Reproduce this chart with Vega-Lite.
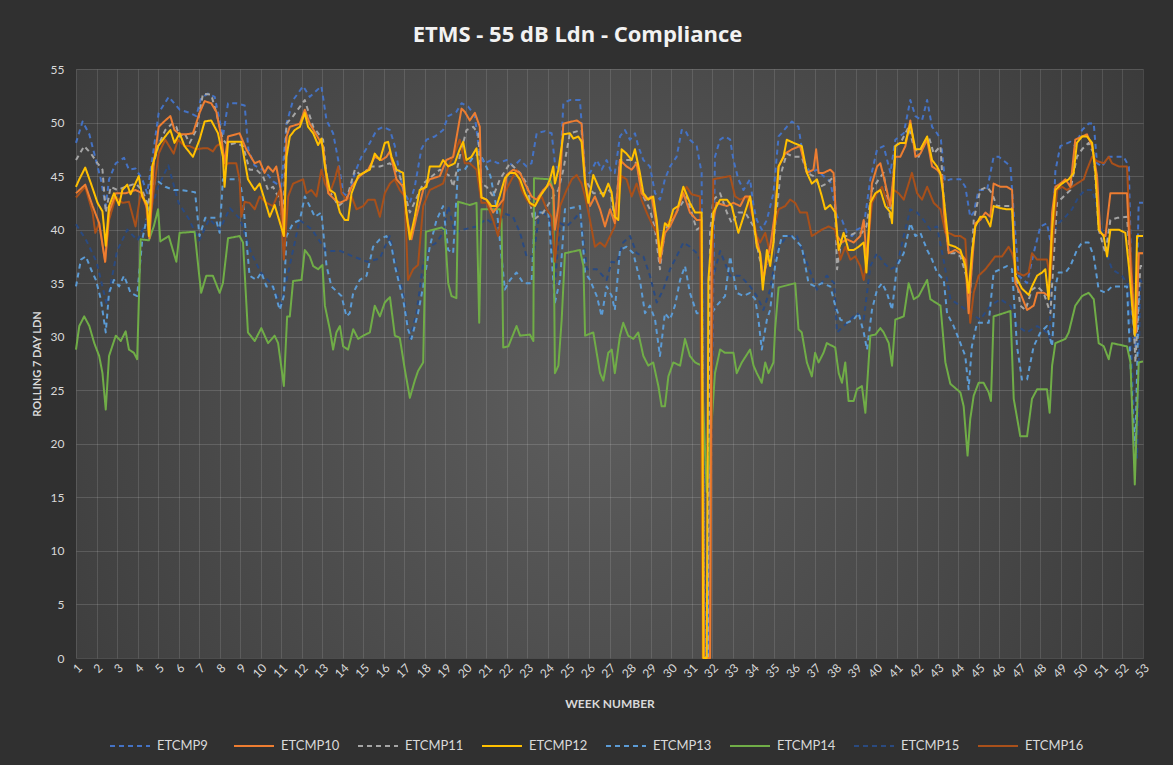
{
"$schema": "https://vega.github.io/schema/vega-lite/v6.json",
"width": 1067, "height": 589,
"autosize": {"type": "none"},
"padding": {"left": 76, "top": 69, "right": 30, "bottom": 107},
"background": "#303030",
"title": {"text": "ETMS - 55 dB Ldn - Compliance", "font": "Open Sans", "fontSize": 22, "fontWeight": "bold", "color": "#f2f2f2", "anchor": "middle", "dx": -32, "offset": 16},
"config": {"view": {"stroke": null, "fill": {"gradient": "radial", "x1": 0.48, "y1": 0.53, "r1": 0, "x2": 0.48, "y2": 0.53, "r2": 0.75, "stops": [{"offset": 0, "color": "#5d5d5d"}, {"offset": 1, "color": "#333333"}]}}},
"data": {"values": [
{"s":15,"w":1,"v":40.5},{"s":15,"w":1.5,"v":39},{"s":15,"w":2,"v":37},{"s":15,"w":2.5,"v":33},{"s":15,"w":3,"v":38},{"s":15,"w":3.5,"v":40},{"s":15,"w":4,"v":39},{"s":15,"w":4.5,"v":41},{"s":15,"w":5,"v":44},{"s":15,"w":5.5,"v":46},{"s":15,"w":6,"v":42.5},{"s":15,"w":6.5,"v":41},{"s":15,"w":7,"v":39},{"s":15,"w":7.5,"v":41},{"s":15,"w":8,"v":40},{"s":15,"w":8.5,"v":42},{"s":15,"w":9,"v":41},{"s":15,"w":9.5,"v":38},{"s":15,"w":10,"v":36},{"s":15,"w":10.5,"v":35},{"s":15,"w":11,"v":33},{"s":15,"w":11.9,"v":40.9},{"s":15,"w":12.5,"v":40},{"s":15,"w":13.2,"v":38},{"s":15,"w":13.9,"v":38},{"s":15,"w":14.5,"v":37.5},{"s":15,"w":15.2,"v":37},{"s":15,"w":15.8,"v":37.3},{"s":15,"w":16.29,"v":39.4},{"s":15,"w":16.6,"v":36.6},{"s":15,"w":16.94,"v":34.1},{"s":15,"w":17.27,"v":29.8},{"s":15,"w":17.6,"v":32.2},{"s":15,"w":17.92,"v":36.9},{"s":15,"w":18.24,"v":38.4},{"s":15,"w":18.57,"v":38.8},{"s":15,"w":18.89,"v":39.7},{"s":15,"w":19.14,"v":42.2},{"s":15,"w":19.46,"v":39.7},{"s":15,"w":19.87,"v":40},{"s":15,"w":20.52,"v":40.3},{"s":15,"w":21,"v":41},{"s":15,"w":21.5,"v":40.3},{"s":15,"w":21.9,"v":41.5},{"s":15,"w":22.3,"v":41.2},{"s":15,"w":22.64,"v":39.7},{"s":15,"w":22.96,"v":37.5},{"s":15,"w":23.29,"v":37.5},{"s":15,"w":23.61,"v":41.9},{"s":15,"w":24.1,"v":41},{"s":15,"w":24.34,"v":35},{"s":15,"w":24.59,"v":40.6},{"s":15,"w":24.91,"v":40.3},{"s":15,"w":25.24,"v":40.9},{"s":15,"w":25.56,"v":41.6},{"s":15,"w":25.9,"v":36.3},{"s":15,"w":26.38,"v":36.3},{"s":15,"w":26.86,"v":35.3},{"s":15,"w":27.1,"v":37},{"s":15,"w":27.35,"v":36.9},{"s":15,"w":27.67,"v":38.8},{"s":15,"w":28,"v":39.4},{"s":15,"w":28.32,"v":37.8},{"s":15,"w":28.65,"v":37.5},{"s":15,"w":28.97,"v":35.7},{"s":15,"w":29.3,"v":33.2},{"s":15,"w":29.62,"v":34.4},{"s":15,"w":29.95,"v":36.3},{"s":15,"w":30.27,"v":37.5},{"s":15,"w":30.6,"v":38.8},{"s":15,"w":30.92,"v":38.4},{"s":15,"w":31.25,"v":37.8},{"s":15,"w":31.49,"v":36.9},{"s":15,"w":31.66,"v":0},{"s":15,"w":31.85,"v":0},{"s":15,"w":32.06,"v":35.7},{"s":15,"w":32.39,"v":38},{"s":15,"w":32.88,"v":35.7},{"s":15,"w":33.37,"v":35.7},{"s":15,"w":33.85,"v":34.7},{"s":15,"w":34.18,"v":33.8},{"s":15,"w":34.5,"v":32.5},{"s":15,"w":34.83,"v":34.4},{"s":15,"w":35.15,"v":38.1},{"s":15,"w":35.64,"v":39.4},{"s":15,"w":36.13,"v":39.4},{"s":15,"w":36.62,"v":36.9},{"s":15,"w":37.11,"v":34.4},{"s":15,"w":37.59,"v":35.7},{"s":15,"w":37.95,"v":35},{"s":15,"w":38.09,"v":30.4},{"s":15,"w":38.41,"v":31},{"s":15,"w":38.74,"v":31.6},{"s":15,"w":39.06,"v":32.2},{"s":15,"w":39.39,"v":31.6},{"s":15,"w":39.71,"v":36.6},{"s":15,"w":40.04,"v":37.8},{"s":15,"w":40.36,"v":36.9},{"s":15,"w":40.69,"v":36.3},{"s":15,"w":41.01,"v":36.6},{"s":15,"w":41.34,"v":39.4},{"s":15,"w":41.66,"v":41.9},{"s":15,"w":41.99,"v":41.6},{"s":15,"w":42.31,"v":40.9},{"s":15,"w":42.64,"v":40},{"s":15,"w":42.96,"v":40.3},{"s":15,"w":43.3,"v":37},{"s":15,"w":43.61,"v":33.5},{"s":15,"w":44.1,"v":32.9},{"s":15,"w":44.58,"v":32.2},{"s":15,"w":45.07,"v":31.6},{"s":15,"w":45.56,"v":32.9},{"s":15,"w":46.05,"v":33.5},{"s":15,"w":46.54,"v":32.9},{"s":15,"w":46.86,"v":31},{"s":15,"w":47.35,"v":30.4},{"s":15,"w":47.84,"v":31},{"s":15,"w":48.32,"v":30.4},{"s":15,"w":48.45,"v":29.9},{"s":15,"w":48.57,"v":39.4},{"s":15,"w":48.89,"v":40.6},{"s":15,"w":49.22,"v":41.2},{"s":15,"w":49.54,"v":41.9},{"s":15,"w":49.87,"v":43.1},{"s":15,"w":50.19,"v":43.7},{"s":15,"w":50.52,"v":43.7},{"s":15,"w":50.84,"v":41.6},{"s":15,"w":51.17,"v":38.1},{"s":15,"w":51.49,"v":36.3},{"s":15,"w":51.98,"v":35.7},{"s":15,"w":52.31,"v":34.7},{"s":15,"w":52.55,"v":23.4},{"s":15,"w":52.71,"v":18.7},{"s":15,"w":52.87,"v":35.3},{"s":15,"w":53,"v":34.7},
{"s":13,"w":1,"v":34.7},{"s":13,"w":1.24,"v":37.2},{"s":13,"w":1.48,"v":37.5},{"s":13,"w":1.73,"v":36.3},{"s":13,"w":1.97,"v":35.3},{"s":13,"w":2.21,"v":33.5},{"s":13,"w":2.45,"v":30.4},{"s":13,"w":2.61,"v":34.1},{"s":13,"w":2.85,"v":35.3},{"s":13,"w":3.1,"v":34.7},{"s":13,"w":3.34,"v":35.7},{"s":13,"w":3.66,"v":34.1},{"s":13,"w":3.98,"v":33.8},{"s":13,"w":4.23,"v":39.1},{"s":13,"w":4.87,"v":44.7},{"s":13,"w":5.35,"v":44},{"s":13,"w":5.76,"v":43.7},{"s":13,"w":6.1,"v":43.7},{"s":13,"w":6.8,"v":43.5},{"s":13,"w":7.02,"v":39.4},{"s":13,"w":7.3,"v":41.1},{"s":13,"w":7.8,"v":41.1},{"s":13,"w":8,"v":39.7},{"s":13,"w":8.16,"v":44.7},{"s":13,"w":8.97,"v":44.7},{"s":13,"w":9.14,"v":42.8},{"s":13,"w":9.3,"v":39.1},{"s":13,"w":9.46,"v":35.7},{"s":13,"w":9.79,"v":35.3},{"s":13,"w":10.03,"v":36},{"s":13,"w":10.28,"v":34.7},{"s":13,"w":10.6,"v":34.7},{"s":13,"w":10.93,"v":32.5},{"s":13,"w":11.13,"v":33.8},{"s":13,"w":11.26,"v":39.4},{"s":13,"w":11.58,"v":40.6},{"s":13,"w":11.91,"v":40.9},{"s":13,"w":12.15,"v":43.1},{"s":13,"w":12.39,"v":42.2},{"s":13,"w":12.64,"v":41.2},{"s":13,"w":12.96,"v":41.6},{"s":13,"w":13.21,"v":36.6},{"s":13,"w":13.45,"v":34.7},{"s":13,"w":13.94,"v":33.8},{"s":13,"w":14.18,"v":31.9},{"s":13,"w":14.34,"v":32.2},{"s":13,"w":14.51,"v":34.1},{"s":13,"w":14.83,"v":35.3},{"s":13,"w":15.16,"v":35.7},{"s":13,"w":15.48,"v":38.4},{"s":13,"w":15.81,"v":39.1},{"s":13,"w":16.13,"v":39.4},{"s":13,"w":16.38,"v":38.4},{"s":13,"w":16.54,"v":36.6},{"s":13,"w":16.94,"v":33.5},{"s":13,"w":17.18,"v":30.7},{"s":13,"w":17.35,"v":29.8},{"s":13,"w":17.67,"v":32.2},{"s":13,"w":17.92,"v":34.7},{"s":13,"w":18.24,"v":38.4},{"s":13,"w":18.57,"v":40.9},{"s":13,"w":18.89,"v":42.2},{"s":13,"w":19.14,"v":38.1},{"s":13,"w":19.38,"v":37.8},{"s":13,"w":19.62,"v":45.6},{"s":13,"w":19.95,"v":45.6},{"s":13,"w":20.36,"v":46.8},{"s":13,"w":20.68,"v":47.1},{"s":13,"w":20.92,"v":46.2},{"s":13,"w":21.2,"v":45},{"s":13,"w":21.5,"v":42},{"s":13,"w":21.9,"v":34.4},{"s":13,"w":22.15,"v":35.3},{"s":13,"w":22.47,"v":36},{"s":13,"w":22.8,"v":35},{"s":13,"w":23.2,"v":35},{"s":13,"w":23.37,"v":41.6},{"s":13,"w":24.02,"v":41.6},{"s":13,"w":24.34,"v":33.2},{"s":13,"w":24.59,"v":35.3},{"s":13,"w":24.83,"v":41.9},{"s":13,"w":25.56,"v":42.2},{"s":13,"w":25.81,"v":36},{"s":13,"w":26.05,"v":35.3},{"s":13,"w":26.38,"v":33.8},{"s":13,"w":26.62,"v":31.9},{"s":13,"w":26.86,"v":34.7},{"s":13,"w":27.11,"v":33.8},{"s":13,"w":27.26,"v":32.5},{"s":13,"w":27.51,"v":38.1},{"s":13,"w":27.83,"v":38.4},{"s":13,"w":28.16,"v":37.8},{"s":13,"w":28.48,"v":35.3},{"s":13,"w":28.73,"v":32.2},{"s":13,"w":28.97,"v":32.9},{"s":13,"w":29.22,"v":31.6},{"s":13,"w":29.46,"v":28.2},{"s":13,"w":29.7,"v":32.2},{"s":13,"w":29.95,"v":31.6},{"s":13,"w":30.19,"v":32.9},{"s":13,"w":30.44,"v":35.3},{"s":13,"w":30.68,"v":36.6},{"s":13,"w":30.92,"v":34.1},{"s":13,"w":31.25,"v":32.2},{"s":13,"w":31.49,"v":32.2},{"s":13,"w":31.65,"v":0},{"s":13,"w":31.82,"v":0},{"s":13,"w":31.98,"v":32.2},{"s":13,"w":32.22,"v":32.9},{"s":13,"w":32.63,"v":33.8},{"s":13,"w":32.88,"v":37.5},{"s":13,"w":33.2,"v":34.1},{"s":13,"w":33.53,"v":33.8},{"s":13,"w":33.85,"v":34.1},{"s":13,"w":34.1,"v":33.5},{"s":13,"w":34.26,"v":31.6},{"s":13,"w":34.42,"v":28.8},{"s":13,"w":34.67,"v":31.6},{"s":13,"w":34.83,"v":32.5},{"s":13,"w":35.07,"v":36.6},{"s":13,"w":35.4,"v":39.4},{"s":13,"w":35.89,"v":39.4},{"s":13,"w":36.37,"v":38.4},{"s":13,"w":36.7,"v":35},{"s":13,"w":37.02,"v":34.7},{"s":13,"w":37.35,"v":35},{"s":13,"w":37.76,"v":34.7},{"s":13,"w":38,"v":32.9},{"s":13,"w":38.25,"v":31.6},{"s":13,"w":38.57,"v":31.3},{"s":13,"w":38.9,"v":31.6},{"s":13,"w":39.14,"v":32.2},{"s":13,"w":39.39,"v":30.4},{"s":13,"w":39.55,"v":28.8},{"s":13,"w":39.79,"v":32.5},{"s":13,"w":40.04,"v":34.4},{"s":13,"w":40.28,"v":35},{"s":13,"w":40.52,"v":34.1},{"s":13,"w":40.77,"v":32.5},{"s":13,"w":41.01,"v":36.6},{"s":13,"w":41.34,"v":37.8},{"s":13,"w":41.66,"v":40.6},{"s":13,"w":41.91,"v":39.4},{"s":13,"w":42.15,"v":39.7},{"s":13,"w":42.48,"v":38.1},{"s":13,"w":42.72,"v":37.2},{"s":13,"w":42.96,"v":36},{"s":13,"w":43.29,"v":35.3},{"s":13,"w":43.45,"v":32.2},{"s":13,"w":43.77,"v":31},{"s":13,"w":44.1,"v":29.4},{"s":13,"w":44.34,"v":28.2},{"s":13,"w":44.5,"v":25.1},{"s":13,"w":44.66,"v":29.1},{"s":13,"w":44.91,"v":31.3},{"s":13,"w":45.48,"v":31.3},{"s":13,"w":45.72,"v":36},{"s":13,"w":46.37,"v":36.6},{"s":13,"w":46.62,"v":36.3},{"s":13,"w":46.86,"v":29.1},{"s":13,"w":47.1,"v":26},{"s":13,"w":47.35,"v":26},{"s":13,"w":47.67,"v":29.1},{"s":13,"w":48,"v":30.4},{"s":13,"w":48.32,"v":31},{"s":13,"w":48.57,"v":29.1},{"s":13,"w":48.73,"v":34.7},{"s":13,"w":48.89,"v":36},{"s":13,"w":49.22,"v":36},{"s":13,"w":49.46,"v":36.6},{"s":13,"w":49.78,"v":38.1},{"s":13,"w":50.03,"v":38.8},{"s":13,"w":50.35,"v":38.8},{"s":13,"w":50.6,"v":37.5},{"s":13,"w":50.84,"v":34.4},{"s":13,"w":51.17,"v":34.1},{"s":13,"w":51.49,"v":34.7},{"s":13,"w":52.22,"v":34.7},{"s":13,"w":52.5,"v":22.9},{"s":13,"w":52.63,"v":19.8},{"s":13,"w":52.79,"v":33.5},{"s":13,"w":53,"v":33.8},
{"s":9,"w":1,"v":48.1},{"s":9,"w":1.32,"v":50.1},{"s":9,"w":1.65,"v":48.9},{"s":9,"w":1.97,"v":46.5},{"s":9,"w":2.21,"v":44.7},{"s":9,"w":2.45,"v":42.2},{"s":9,"w":2.61,"v":44.7},{"s":9,"w":2.94,"v":46.2},{"s":9,"w":3.34,"v":46.7},{"s":9,"w":3.58,"v":45.6},{"s":9,"w":3.9,"v":45.7},{"s":9,"w":4.23,"v":44.7},{"s":9,"w":4.47,"v":43.4},{"s":9,"w":4.71,"v":46.5},{"s":9,"w":5.03,"v":50.9},{"s":9,"w":5.52,"v":52.4},{"s":9,"w":6.05,"v":51.2},{"s":9,"w":6.54,"v":50.9},{"s":9,"w":6.86,"v":50.6},{"s":9,"w":7.1,"v":52.3},{"s":9,"w":7.43,"v":52.7},{"s":9,"w":7.76,"v":52.4},{"s":9,"w":8.16,"v":48.7},{"s":9,"w":8.41,"v":51.8},{"s":9,"w":8.81,"v":51.8},{"s":9,"w":9.22,"v":51.6},{"s":9,"w":9.4,"v":47.5},{"s":9,"w":9.7,"v":46},{"s":9,"w":10.2,"v":45.5},{"s":9,"w":10.6,"v":44.5},{"s":9,"w":11,"v":44},{"s":9,"w":11.26,"v":49.9},{"s":9,"w":11.58,"v":52.1},{"s":9,"w":12.07,"v":53.4},{"s":9,"w":12.39,"v":52.4},{"s":9,"w":12.96,"v":53.4},{"s":9,"w":13.21,"v":50.2},{"s":9,"w":13.53,"v":49},{"s":9,"w":13.78,"v":46.5},{"s":9,"w":14.02,"v":43.4},{"s":9,"w":14.26,"v":43.1},{"s":9,"w":14.59,"v":45.3},{"s":9,"w":14.91,"v":46.8},{"s":9,"w":15.32,"v":48.1},{"s":9,"w":15.65,"v":49.3},{"s":9,"w":15.97,"v":49.6},{"s":9,"w":16.3,"v":49.3},{"s":9,"w":16.54,"v":47.8},{"s":9,"w":16.62,"v":46.8},{"s":9,"w":16.94,"v":43.7},{"s":9,"w":17.27,"v":42.5},{"s":9,"w":17.51,"v":44},{"s":9,"w":17.83,"v":47.5},{"s":9,"w":18.08,"v":48.4},{"s":9,"w":18.49,"v":48.7},{"s":9,"w":18.89,"v":49.3},{"s":9,"w":19.14,"v":50.6},{"s":9,"w":19.54,"v":51},{"s":9,"w":19.79,"v":51.8},{"s":9,"w":20.11,"v":51.5},{"s":9,"w":20.44,"v":50.6},{"s":9,"w":20.68,"v":46.8},{"s":9,"w":20.92,"v":46.2},{"s":9,"w":21.25,"v":46.5},{"s":9,"w":21.57,"v":46.2},{"s":9,"w":21.99,"v":46.5},{"s":9,"w":22.31,"v":45.9},{"s":9,"w":22.64,"v":46.5},{"s":9,"w":22.96,"v":45.9},{"s":9,"w":23.2,"v":46.2},{"s":9,"w":23.45,"v":49},{"s":9,"w":23.86,"v":49.2},{"s":9,"w":24.18,"v":49},{"s":9,"w":24.34,"v":46.2},{"s":9,"w":24.59,"v":45.3},{"s":9,"w":24.75,"v":51.8},{"s":9,"w":25.07,"v":52.1},{"s":9,"w":25.56,"v":52.1},{"s":9,"w":25.81,"v":45.3},{"s":9,"w":26.05,"v":45.3},{"s":9,"w":26.38,"v":46.5},{"s":9,"w":26.62,"v":45.6},{"s":9,"w":26.86,"v":46.5},{"s":9,"w":27.11,"v":45.3},{"s":9,"w":27.26,"v":45.3},{"s":9,"w":27.51,"v":48.7},{"s":9,"w":27.75,"v":49.3},{"s":9,"w":28,"v":48.4},{"s":9,"w":28.24,"v":49},{"s":9,"w":28.4,"v":47.8},{"s":9,"w":28.65,"v":46.5},{"s":9,"w":28.97,"v":45.9},{"s":9,"w":29.22,"v":43.4},{"s":9,"w":29.46,"v":42.8},{"s":9,"w":29.7,"v":44.7},{"s":9,"w":29.95,"v":45.9},{"s":9,"w":30.27,"v":46.8},{"s":9,"w":30.52,"v":49.3},{"s":9,"w":30.68,"v":49.3},{"s":9,"w":30.92,"v":48.4},{"s":9,"w":31.25,"v":47.8},{"s":9,"w":31.49,"v":45.3},{"s":9,"w":31.63,"v":0},{"s":9,"w":31.82,"v":0},{"s":9,"w":32.14,"v":46.8},{"s":9,"w":32.39,"v":48.4},{"s":9,"w":32.63,"v":48.7},{"s":9,"w":32.88,"v":48.4},{"s":9,"w":33.04,"v":46.5},{"s":9,"w":33.28,"v":44.7},{"s":9,"w":33.53,"v":43.7},{"s":9,"w":33.85,"v":44.7},{"s":9,"w":34.02,"v":42.2},{"s":9,"w":34.18,"v":40.9},{"s":9,"w":34.42,"v":40},{"s":9,"w":34.67,"v":40.9},{"s":9,"w":34.99,"v":43.4},{"s":9,"w":35.24,"v":48.7},{"s":9,"w":35.64,"v":49.6},{"s":9,"w":35.89,"v":50.1},{"s":9,"w":36.21,"v":49.6},{"s":9,"w":36.46,"v":46.5},{"s":9,"w":36.78,"v":45.3},{"s":9,"w":37.11,"v":45.6},{"s":9,"w":37.43,"v":45},{"s":9,"w":37.76,"v":44.5},{"s":9,"w":38.09,"v":41.2},{"s":9,"w":38.33,"v":40.9},{"s":9,"w":38.57,"v":39.7},{"s":9,"w":38.82,"v":39.4},{"s":9,"w":39.06,"v":40},{"s":9,"w":39.39,"v":40.3},{"s":9,"w":39.71,"v":44.7},{"s":9,"w":40.04,"v":47.5},{"s":9,"w":40.36,"v":47.8},{"s":9,"w":40.69,"v":45.3},{"s":9,"w":40.93,"v":48.4},{"s":9,"w":41.34,"v":49},{"s":9,"w":41.66,"v":52.1},{"s":9,"w":41.91,"v":50.6},{"s":9,"w":42.23,"v":50.2},{"s":9,"w":42.48,"v":52.1},{"s":9,"w":42.72,"v":49.6},{"s":9,"w":42.96,"v":49},{"s":9,"w":43.15,"v":48.4},{"s":9,"w":43.35,"v":44.5},{"s":9,"w":43.61,"v":44.7},{"s":9,"w":44.1,"v":44.7},{"s":9,"w":44.34,"v":44},{"s":9,"w":44.58,"v":41.2},{"s":9,"w":44.75,"v":41.6},{"s":9,"w":44.99,"v":43.7},{"s":9,"w":45.4,"v":43.7},{"s":9,"w":45.72,"v":46.8},{"s":9,"w":45.97,"v":46.8},{"s":9,"w":46.37,"v":46.2},{"s":9,"w":46.54,"v":45.9},{"s":9,"w":46.7,"v":41.6},{"s":9,"w":46.94,"v":35.7},{"s":9,"w":47.35,"v":35},{"s":9,"w":47.67,"v":37.8},{"s":9,"w":48,"v":40.3},{"s":9,"w":48.32,"v":40.6},{"s":9,"w":48.57,"v":38.1},{"s":9,"w":48.73,"v":45.5},{"s":9,"w":48.97,"v":47.8},{"s":9,"w":49.46,"v":48.2},{"s":9,"w":49.7,"v":47.8},{"s":9,"w":50.03,"v":49.3},{"s":9,"w":50.35,"v":49.9},{"s":9,"w":50.6,"v":49.9},{"s":9,"w":50.76,"v":46.2},{"s":9,"w":51,"v":45.9},{"s":9,"w":51.33,"v":46.8},{"s":9,"w":52.06,"v":46.8},{"s":9,"w":52.31,"v":45.9},{"s":9,"w":52.47,"v":32.2},{"s":9,"w":52.63,"v":29.1},{"s":9,"w":52.79,"v":42.5},{"s":9,"w":53,"v":42.5},
{"s":11,"w":1,"v":46.5},{"s":11,"w":1.4,"v":47.8},{"s":11,"w":1.73,"v":47.1},{"s":11,"w":2.05,"v":46.2},{"s":11,"w":2.29,"v":45.6},{"s":11,"w":2.45,"v":41.6},{"s":11,"w":2.69,"v":44},{"s":11,"w":3.02,"v":43.7},{"s":11,"w":3.42,"v":44},{"s":11,"w":3.9,"v":44.3},{"s":11,"w":4.23,"v":43.7},{"s":11,"w":4.52,"v":42.2},{"s":11,"w":4.71,"v":45.6},{"s":11,"w":5,"v":47.8},{"s":11,"w":5.35,"v":49.3},{"s":11,"w":5.68,"v":49.9},{"s":11,"w":5.89,"v":49.6},{"s":11,"w":6.05,"v":48.7},{"s":11,"w":6.29,"v":49},{"s":11,"w":6.54,"v":48.1},{"s":11,"w":6.86,"v":49.3},{"s":11,"w":7.19,"v":52.7},{"s":11,"w":7.59,"v":52.6},{"s":11,"w":7.84,"v":50.9},{"s":11,"w":8.16,"v":48.4},{"s":11,"w":8.41,"v":47.9},{"s":11,"w":8.81,"v":48.1},{"s":11,"w":9.14,"v":47.8},{"s":11,"w":9.46,"v":45.6},{"s":11,"w":9.79,"v":45.6},{"s":11,"w":10.11,"v":45},{"s":11,"w":10.36,"v":43.7},{"s":11,"w":10.6,"v":44},{"s":11,"w":10.93,"v":42.8},{"s":11,"w":11.09,"v":40},{"s":11,"w":11.26,"v":49.9},{"s":11,"w":11.58,"v":50.6},{"s":11,"w":12.15,"v":52.1},{"s":11,"w":12.56,"v":49.6},{"s":11,"w":13.04,"v":48.4},{"s":11,"w":13.29,"v":43.7},{"s":11,"w":13.53,"v":43.1},{"s":11,"w":13.78,"v":42.2},{"s":11,"w":14.18,"v":42.8},{"s":11,"w":14.59,"v":45.6},{"s":11,"w":14.91,"v":45},{"s":11,"w":15.32,"v":45.9},{"s":11,"w":15.81,"v":45.9},{"s":11,"w":16.3,"v":46.2},{"s":11,"w":16.78,"v":45},{"s":11,"w":17.27,"v":41.6},{"s":11,"w":17.92,"v":44.3},{"s":11,"w":18.73,"v":45.6},{"s":11,"w":19.22,"v":45},{"s":11,"w":19.38,"v":44},{"s":11,"w":19.7,"v":46.8},{"s":11,"w":20.03,"v":49.3},{"s":11,"w":20.36,"v":49.6},{"s":11,"w":20.6,"v":49},{"s":11,"w":20.76,"v":44.3},{"s":11,"w":21.01,"v":44},{"s":11,"w":21.33,"v":43.1},{"s":11,"w":21.66,"v":44.7},{"s":11,"w":22.15,"v":46.2},{"s":11,"w":22.64,"v":45.3},{"s":11,"w":22.96,"v":44.3},{"s":11,"w":23.29,"v":40.9},{"s":11,"w":23.77,"v":41.6},{"s":11,"w":24.26,"v":43.1},{"s":11,"w":24.51,"v":43.7},{"s":11,"w":24.75,"v":45.6},{"s":11,"w":25.07,"v":49},{"s":11,"w":25.64,"v":49.3},{"s":11,"w":25.81,"v":44.7},{"s":11,"w":26.21,"v":43.4},{"s":11,"w":26.7,"v":43.4},{"s":11,"w":27.03,"v":43.7},{"s":11,"w":27.26,"v":40.9},{"s":11,"w":27.51,"v":46.5},{"s":11,"w":28,"v":46.5},{"s":11,"w":28.32,"v":46.2},{"s":11,"w":28.65,"v":43.1},{"s":11,"w":28.97,"v":41.9},{"s":11,"w":29.22,"v":40},{"s":11,"w":29.46,"v":36.3},{"s":11,"w":29.7,"v":40},{"s":11,"w":30.03,"v":40.9},{"s":11,"w":30.44,"v":42.2},{"s":11,"w":30.76,"v":43.1},{"s":11,"w":31,"v":41.6},{"s":11,"w":31.25,"v":40},{"s":11,"w":31.49,"v":40.3},{"s":11,"w":31.62,"v":0},{"s":11,"w":31.8,"v":0},{"s":11,"w":31.9,"v":39.7},{"s":11,"w":32.06,"v":42.8},{"s":11,"w":32.39,"v":43.4},{"s":11,"w":32.72,"v":41.6},{"s":11,"w":32.96,"v":40.6},{"s":11,"w":33.28,"v":41.6},{"s":11,"w":33.61,"v":41.6},{"s":11,"w":34.02,"v":40.3},{"s":11,"w":34.26,"v":37.8},{"s":11,"w":34.5,"v":35.7},{"s":11,"w":34.75,"v":37.5},{"s":11,"w":34.99,"v":38.8},{"s":11,"w":35.32,"v":45},{"s":11,"w":35.64,"v":47.1},{"s":11,"w":35.97,"v":46.8},{"s":11,"w":36.37,"v":46.8},{"s":11,"w":36.62,"v":45.3},{"s":11,"w":36.94,"v":45},{"s":11,"w":37.27,"v":44},{"s":11,"w":37.59,"v":44.3},{"s":11,"w":37.95,"v":45},{"s":11,"w":38.09,"v":36.3},{"s":11,"w":38.33,"v":39.4},{"s":11,"w":38.65,"v":39.4},{"s":11,"w":38.98,"v":39.7},{"s":11,"w":39.3,"v":39.7},{"s":11,"w":39.52,"v":40.3},{"s":11,"w":39.79,"v":43.7},{"s":11,"w":40.12,"v":44.7},{"s":11,"w":40.36,"v":45.3},{"s":11,"w":40.69,"v":40.9},{"s":11,"w":40.93,"v":47.8},{"s":11,"w":41.26,"v":48.4},{"s":11,"w":41.58,"v":49.6},{"s":11,"w":41.82,"v":47.8},{"s":11,"w":42.07,"v":46.8},{"s":11,"w":42.31,"v":48.1},{"s":11,"w":42.56,"v":48.7},{"s":11,"w":42.8,"v":47.1},{"s":11,"w":43.13,"v":47.8},{"s":11,"w":43.28,"v":43.1},{"s":11,"w":43.53,"v":37.8},{"s":11,"w":43.85,"v":37.8},{"s":11,"w":44.1,"v":37.5},{"s":11,"w":44.34,"v":36},{"s":11,"w":44.58,"v":34.1},{"s":11,"w":44.75,"v":40.9},{"s":11,"w":45.07,"v":43.7},{"s":11,"w":45.4,"v":44},{"s":11,"w":45.64,"v":43.4},{"s":11,"w":45.88,"v":42.2},{"s":11,"w":46.62,"v":42.2},{"s":11,"w":46.78,"v":36.3},{"s":11,"w":47.02,"v":32.9},{"s":11,"w":47.27,"v":32.5},{"s":11,"w":47.59,"v":34.4},{"s":11,"w":47.84,"v":34.7},{"s":11,"w":48.16,"v":34.1},{"s":11,"w":48.49,"v":32.2},{"s":11,"w":48.73,"v":40},{"s":11,"w":48.81,"v":42.5},{"s":11,"w":49.13,"v":43.1},{"s":11,"w":49.46,"v":43.7},{"s":11,"w":49.78,"v":46.8},{"s":11,"w":50.03,"v":47.5},{"s":11,"w":50.35,"v":48.1},{"s":11,"w":50.6,"v":47.1},{"s":11,"w":50.84,"v":40},{"s":11,"w":51.17,"v":37.8},{"s":11,"w":51.41,"v":40.9},{"s":11,"w":51.74,"v":41.1},{"s":11,"w":52.22,"v":41.2},{"s":11,"w":52.47,"v":34.7},{"s":11,"w":52.63,"v":27.6},{"s":11,"w":52.87,"v":36.6},{"s":11,"w":53,"v":36.6},
{"s":14,"w":1,"v":28.8},{"s":14,"w":1.16,"v":31},{"s":14,"w":1.4,"v":31.9},{"s":14,"w":1.65,"v":31},{"s":14,"w":1.89,"v":29.4},{"s":14,"w":2.13,"v":28.2},{"s":14,"w":2.29,"v":26.6},{"s":14,"w":2.45,"v":23.2},{"s":14,"w":2.61,"v":28.2},{"s":14,"w":2.94,"v":30.1},{"s":14,"w":3.18,"v":29.6},{"s":14,"w":3.42,"v":30.5},{"s":14,"w":3.58,"v":28.8},{"s":14,"w":3.82,"v":28.5},{"s":14,"w":3.98,"v":27.9},{"s":14,"w":4.15,"v":39.1},{"s":14,"w":4.55,"v":39},{"s":14,"w":4.79,"v":40.3},{"s":14,"w":5,"v":41.9},{"s":14,"w":5.11,"v":38.9},{"s":14,"w":5.52,"v":39.4},{"s":14,"w":5.89,"v":37},{"s":14,"w":6.05,"v":39.7},{"s":14,"w":6.78,"v":39.8},{"s":14,"w":6.99,"v":36},{"s":14,"w":7.1,"v":34.1},{"s":14,"w":7.35,"v":35.7},{"s":14,"w":7.67,"v":35.7},{"s":14,"w":8,"v":34.1},{"s":14,"w":8.16,"v":35},{"s":14,"w":8.41,"v":39.2},{"s":14,"w":8.97,"v":39.4},{"s":14,"w":9.14,"v":38.8},{"s":14,"w":9.38,"v":30.4},{"s":14,"w":9.71,"v":29.6},{"s":14,"w":10.03,"v":30.8},{"s":14,"w":10.36,"v":29.4},{"s":14,"w":10.68,"v":30.1},{"s":14,"w":10.85,"v":29.4},{"s":14,"w":11.13,"v":25.4},{"s":14,"w":11.29,"v":31.9},{"s":14,"w":11.42,"v":31.9},{"s":14,"w":11.58,"v":35.2},{"s":14,"w":11.99,"v":35.3},{"s":14,"w":12.15,"v":38.1},{"s":14,"w":12.39,"v":37.5},{"s":14,"w":12.56,"v":36.6},{"s":14,"w":12.8,"v":36.3},{"s":14,"w":13.01,"v":36.7},{"s":14,"w":13.13,"v":32.9},{"s":14,"w":13.37,"v":30.7},{"s":14,"w":13.53,"v":28.8},{"s":14,"w":13.69,"v":30.4},{"s":14,"w":13.86,"v":31},{"s":14,"w":14.02,"v":29.1},{"s":14,"w":14.26,"v":28.8},{"s":14,"w":14.51,"v":30.7},{"s":14,"w":14.75,"v":29.8},{"s":14,"w":15,"v":30.1},{"s":14,"w":15.32,"v":30.4},{"s":14,"w":15.56,"v":32.9},{"s":14,"w":15.81,"v":31.9},{"s":14,"w":16.05,"v":33.2},{"s":14,"w":16.3,"v":33.7},{"s":14,"w":16.54,"v":30.1},{"s":14,"w":16.78,"v":29.9},{"s":14,"w":17.02,"v":27},{"s":14,"w":17.27,"v":24.3},{"s":14,"w":17.51,"v":25.9},{"s":14,"w":17.67,"v":26.8},{"s":14,"w":17.92,"v":27.6},{"s":14,"w":18.05,"v":39.8},{"s":14,"w":18.81,"v":40.2},{"s":14,"w":18.97,"v":40},{"s":14,"w":19.14,"v":35},{"s":14,"w":19.3,"v":33.8},{"s":14,"w":19.54,"v":33.6},{"s":14,"w":19.62,"v":42.6},{"s":14,"w":20.19,"v":42.3},{"s":14,"w":20.52,"v":42.5},{"s":14,"w":20.65,"v":31.3},{"s":14,"w":20.76,"v":41.9},{"s":14,"w":21.66,"v":41.9},{"s":14,"w":21.74,"v":40.9},{"s":14,"w":21.82,"v":29},{"s":14,"w":22.07,"v":29.1},{"s":14,"w":22.47,"v":31},{"s":14,"w":22.64,"v":30.1},{"s":14,"w":23.12,"v":30.2},{"s":14,"w":23.29,"v":29.6},{"s":14,"w":23.32,"v":44.8},{"s":14,"w":24.1,"v":44.7},{"s":14,"w":24.26,"v":43.7},{"s":14,"w":24.34,"v":26.6},{"s":14,"w":24.51,"v":27.3},{"s":14,"w":24.67,"v":31.6},{"s":14,"w":24.83,"v":37.8},{"s":14,"w":25.56,"v":38.1},{"s":14,"w":25.73,"v":36.6},{"s":14,"w":25.81,"v":30.1},{"s":14,"w":26.21,"v":30.4},{"s":14,"w":26.54,"v":26.6},{"s":14,"w":26.7,"v":25.9},{"s":14,"w":26.94,"v":28.5},{"s":14,"w":27.11,"v":28.8},{"s":14,"w":27.26,"v":26.6},{"s":14,"w":27.51,"v":30.1},{"s":14,"w":27.67,"v":31.3},{"s":14,"w":27.91,"v":30.1},{"s":14,"w":28.16,"v":29.8},{"s":14,"w":28.4,"v":30.4},{"s":14,"w":28.65,"v":28.2},{"s":14,"w":28.89,"v":27.3},{"s":14,"w":29.13,"v":27.6},{"s":14,"w":29.38,"v":25.4},{"s":14,"w":29.54,"v":23.5},{"s":14,"w":29.7,"v":23.5},{"s":14,"w":29.87,"v":26.3},{"s":14,"w":30.11,"v":27.6},{"s":14,"w":30.44,"v":27.3},{"s":14,"w":30.68,"v":29.8},{"s":14,"w":30.92,"v":28.2},{"s":14,"w":31.17,"v":27.6},{"s":14,"w":31.49,"v":27.3},{"s":14,"w":31.74,"v":15.5},{"s":14,"w":31.9,"v":19.8},{"s":14,"w":32.14,"v":26.6},{"s":14,"w":32.39,"v":28.8},{"s":14,"w":32.63,"v":28.5},{"s":14,"w":33.04,"v":28.5},{"s":14,"w":33.2,"v":26.6},{"s":14,"w":33.45,"v":27.6},{"s":14,"w":33.85,"v":28.8},{"s":14,"w":34.02,"v":27.3},{"s":14,"w":34.18,"v":26.6},{"s":14,"w":34.42,"v":25.7},{"s":14,"w":34.59,"v":27.6},{"s":14,"w":34.75,"v":26.6},{"s":14,"w":34.99,"v":27.6},{"s":14,"w":35.07,"v":30.7},{"s":14,"w":35.24,"v":34.6},{"s":14,"w":36.05,"v":35},{"s":14,"w":36.21,"v":30.7},{"s":14,"w":36.37,"v":30.4},{"s":14,"w":36.62,"v":27.6},{"s":14,"w":36.86,"v":26.3},{"s":14,"w":37.02,"v":28.5},{"s":14,"w":37.19,"v":27.6},{"s":14,"w":37.43,"v":28.5},{"s":14,"w":37.59,"v":29.4},{"s":14,"w":38,"v":29},{"s":14,"w":38.17,"v":26.6},{"s":14,"w":38.33,"v":25.7},{"s":14,"w":38.49,"v":27.6},{"s":14,"w":38.65,"v":24},{"s":14,"w":38.9,"v":24},{"s":14,"w":39.06,"v":25.1},{"s":14,"w":39.3,"v":25.4},{"s":14,"w":39.47,"v":22.9},{"s":14,"w":39.71,"v":30.1},{"s":14,"w":39.96,"v":30.2},{"s":14,"w":40.2,"v":30.8},{"s":14,"w":40.36,"v":30.4},{"s":14,"w":40.61,"v":29.4},{"s":14,"w":40.77,"v":27.3},{"s":14,"w":40.93,"v":31.6},{"s":14,"w":41.34,"v":31.9},{"s":14,"w":41.58,"v":35},{"s":14,"w":41.83,"v":33.5},{"s":14,"w":42.07,"v":33.8},{"s":14,"w":42.48,"v":35.3},{"s":14,"w":42.64,"v":33.5},{"s":14,"w":43.13,"v":32.9},{"s":14,"w":43.37,"v":27.6},{"s":14,"w":43.61,"v":25.6},{"s":14,"w":44.1,"v":24.8},{"s":14,"w":44.26,"v":23.5},{"s":14,"w":44.45,"v":18.9},{"s":14,"w":44.58,"v":22.3},{"s":14,"w":44.75,"v":24.5},{"s":14,"w":44.99,"v":25.7},{"s":14,"w":45.23,"v":25.7},{"s":14,"w":45.48,"v":24.8},{"s":14,"w":45.59,"v":24},{"s":14,"w":45.72,"v":31.9},{"s":14,"w":46.54,"v":32.4},{"s":14,"w":46.7,"v":24.2},{"s":14,"w":47.02,"v":20.7},{"s":14,"w":47.35,"v":20.7},{"s":14,"w":47.59,"v":24.2},{"s":14,"w":47.84,"v":25.1},{"s":14,"w":48.32,"v":25.1},{"s":14,"w":48.45,"v":22.9},{"s":14,"w":48.57,"v":27.3},{"s":14,"w":48.73,"v":29.4},{"s":14,"w":49.22,"v":29.8},{"s":14,"w":49.38,"v":30.4},{"s":14,"w":49.7,"v":32.9},{"s":14,"w":50.03,"v":33.8},{"s":14,"w":50.35,"v":34.1},{"s":14,"w":50.6,"v":33.5},{"s":14,"w":50.84,"v":29.4},{"s":14,"w":51.09,"v":29.1},{"s":14,"w":51.33,"v":27.9},{"s":14,"w":51.49,"v":29.4},{"s":14,"w":52.22,"v":29.1},{"s":14,"w":52.39,"v":27.6},{"s":14,"w":52.6,"v":16.2},{"s":14,"w":52.79,"v":27.6},{"s":14,"w":53,"v":27.7},
{"s":16,"w":1,"v":43},{"s":16,"w":1.45,"v":44},{"s":16,"w":1.81,"v":41.6},{"s":16,"w":1.94,"v":39.7},{"s":16,"w":2.13,"v":40.6},{"s":16,"w":2.42,"v":37},{"s":16,"w":2.61,"v":40.9},{"s":16,"w":2.94,"v":43.1},{"s":16,"w":3.26,"v":42.5},{"s":16,"w":3.58,"v":42.6},{"s":16,"w":3.9,"v":40.3},{"s":16,"w":4.15,"v":43.4},{"s":16,"w":4.42,"v":42.2},{"s":16,"w":4.55,"v":39.4},{"s":16,"w":4.79,"v":43.7},{"s":16,"w":5.03,"v":47.1},{"s":16,"w":5.35,"v":48.4},{"s":16,"w":5.76,"v":47.1},{"s":16,"w":5.97,"v":48.4},{"s":16,"w":6.29,"v":47.8},{"s":16,"w":6.54,"v":47.8},{"s":16,"w":6.86,"v":47.5},{"s":16,"w":7.19,"v":47.6},{"s":16,"w":7.43,"v":47.6},{"s":16,"w":7.67,"v":47.3},{"s":16,"w":7.84,"v":47.8},{"s":16,"w":8.08,"v":48.1},{"s":16,"w":8.24,"v":45.9},{"s":16,"w":8.41,"v":46.2},{"s":16,"w":8.81,"v":46.2},{"s":16,"w":8.97,"v":44.7},{"s":16,"w":9.06,"v":41.2},{"s":16,"w":9.22,"v":42.6},{"s":16,"w":9.46,"v":42.5},{"s":16,"w":9.71,"v":41.9},{"s":16,"w":9.95,"v":43.1},{"s":16,"w":10.28,"v":42.5},{"s":16,"w":10.6,"v":42.2},{"s":16,"w":10.93,"v":43.7},{"s":16,"w":11.13,"v":37.2},{"s":16,"w":11.34,"v":43.1},{"s":16,"w":11.58,"v":44.3},{"s":16,"w":12.07,"v":44.7},{"s":16,"w":12.23,"v":43.4},{"s":16,"w":12.47,"v":43.7},{"s":16,"w":12.72,"v":43.1},{"s":16,"w":12.96,"v":45.6},{"s":16,"w":13.13,"v":44.3},{"s":16,"w":13.37,"v":43.4},{"s":16,"w":13.61,"v":44.7},{"s":16,"w":13.78,"v":45.9},{"s":16,"w":13.94,"v":43.4},{"s":16,"w":14.18,"v":42.8},{"s":16,"w":14.43,"v":43.1},{"s":16,"w":14.67,"v":41.9},{"s":16,"w":15,"v":42.2},{"s":16,"w":15.24,"v":42.8},{"s":16,"w":15.56,"v":42.8},{"s":16,"w":15.81,"v":41.2},{"s":16,"w":16.05,"v":43.4},{"s":16,"w":16.3,"v":44.3},{"s":16,"w":16.53,"v":44.7},{"s":16,"w":16.78,"v":43.7},{"s":16,"w":17.02,"v":43.1},{"s":16,"w":17.18,"v":35.3},{"s":16,"w":17.43,"v":36.3},{"s":16,"w":17.67,"v":36.7},{"s":16,"w":17.92,"v":42.2},{"s":16,"w":18.24,"v":43.7},{"s":16,"w":18.57,"v":44},{"s":16,"w":18.89,"v":44.3},{"s":16,"w":19.14,"v":45.9},{"s":16,"w":19.38,"v":46.8},{"s":16,"w":19.7,"v":48.4},{"s":16,"w":19.95,"v":46.2},{"s":16,"w":20.19,"v":46.2},{"s":16,"w":20.52,"v":45.6},{"s":16,"w":20.76,"v":42.5},{"s":16,"w":21.01,"v":42.5},{"s":16,"w":21.33,"v":40.9},{"s":16,"w":21.57,"v":39.4},{"s":16,"w":21.9,"v":43.5},{"s":16,"w":22.23,"v":44.7},{"s":16,"w":22.47,"v":45.6},{"s":16,"w":22.72,"v":43.7},{"s":16,"w":22.96,"v":42.8},{"s":16,"w":23.2,"v":42.2},{"s":16,"w":23.45,"v":42.5},{"s":16,"w":23.69,"v":43.1},{"s":16,"w":23.94,"v":41.9},{"s":16,"w":24.18,"v":41.2},{"s":16,"w":24.34,"v":37},{"s":16,"w":24.59,"v":42.2},{"s":16,"w":24.91,"v":43.7},{"s":16,"w":25.16,"v":44.7},{"s":16,"w":25.4,"v":45.1},{"s":16,"w":25.64,"v":44.3},{"s":16,"w":25.81,"v":43.1},{"s":16,"w":26.05,"v":40.9},{"s":16,"w":26.29,"v":38.4},{"s":16,"w":26.54,"v":38.8},{"s":16,"w":26.78,"v":38.4},{"s":16,"w":27.03,"v":39.4},{"s":16,"w":27.26,"v":40.3},{"s":16,"w":27.59,"v":45},{"s":16,"w":27.83,"v":44.7},{"s":16,"w":28.08,"v":43.1},{"s":16,"w":28.32,"v":44.3},{"s":16,"w":28.56,"v":42.8},{"s":16,"w":28.81,"v":41.6},{"s":16,"w":29.05,"v":40.6},{"s":16,"w":29.3,"v":39.7},{"s":16,"w":29.46,"v":38.4},{"s":16,"w":29.7,"v":40.3},{"s":16,"w":29.95,"v":40.9},{"s":16,"w":30.27,"v":41.6},{"s":16,"w":30.52,"v":43.1},{"s":16,"w":30.76,"v":44},{"s":16,"w":31,"v":43.3},{"s":16,"w":31.41,"v":43.1},{"s":16,"w":31.54,"v":0},{"s":16,"w":31.9,"v":0},{"s":16,"w":32.06,"v":44.7},{"s":16,"w":32.3,"v":44.8},{"s":16,"w":32.88,"v":45},{"s":16,"w":33.12,"v":43.1},{"s":16,"w":33.37,"v":42.8},{"s":16,"w":33.69,"v":43.1},{"s":16,"w":34.02,"v":40.9},{"s":16,"w":34.18,"v":39.4},{"s":16,"w":34.34,"v":38.8},{"s":16,"w":34.59,"v":39.7},{"s":16,"w":34.83,"v":37.8},{"s":16,"w":35.07,"v":40.6},{"s":16,"w":35.24,"v":41.9},{"s":16,"w":35.56,"v":42.2},{"s":16,"w":35.8,"v":42.8},{"s":16,"w":36.05,"v":42.5},{"s":16,"w":36.29,"v":41.6},{"s":16,"w":36.62,"v":41.6},{"s":16,"w":36.86,"v":39.4},{"s":16,"w":37.11,"v":39.7},{"s":16,"w":37.35,"v":40},{"s":16,"w":37.68,"v":40.3},{"s":16,"w":38,"v":40},{"s":16,"w":38.25,"v":37.2},{"s":16,"w":38.49,"v":38.4},{"s":16,"w":38.74,"v":37.2},{"s":16,"w":38.98,"v":37.5},{"s":16,"w":39.22,"v":36.6},{"s":16,"w":39.39,"v":35.3},{"s":16,"w":39.55,"v":37.5},{"s":16,"w":39.79,"v":42.5},{"s":16,"w":40.04,"v":43.4},{"s":16,"w":40.28,"v":44},{"s":16,"w":40.61,"v":42.2},{"s":16,"w":40.85,"v":43.7},{"s":16,"w":41.09,"v":43.4},{"s":16,"w":41.34,"v":42.8},{"s":16,"w":41.58,"v":44.3},{"s":16,"w":41.74,"v":45.3},{"s":16,"w":41.99,"v":43.4},{"s":16,"w":42.23,"v":42.8},{"s":16,"w":42.48,"v":44},{"s":16,"w":42.8,"v":42.5},{"s":16,"w":43.13,"v":41.9},{"s":16,"w":43.37,"v":39.7},{"s":16,"w":43.53,"v":39.7},{"s":16,"w":43.85,"v":39.4},{"s":16,"w":44.1,"v":39.4},{"s":16,"w":44.34,"v":39.1},{"s":16,"w":44.58,"v":31.3},{"s":16,"w":44.75,"v":34.1},{"s":16,"w":44.99,"v":35.7},{"s":16,"w":45.32,"v":36.3},{"s":16,"w":45.56,"v":36.9},{"s":16,"w":45.8,"v":37.5},{"s":16,"w":46.13,"v":37.5},{"s":16,"w":46.45,"v":38.4},{"s":16,"w":46.62,"v":37.8},{"s":16,"w":46.86,"v":36},{"s":16,"w":47.19,"v":35.7},{"s":16,"w":47.43,"v":36},{"s":16,"w":47.59,"v":37.8},{"s":16,"w":47.84,"v":37.2},{"s":16,"w":48.32,"v":37.2},{"s":16,"w":48.49,"v":35.3},{"s":16,"w":48.65,"v":40},{"s":16,"w":48.81,"v":43.7},{"s":16,"w":49.05,"v":44},{"s":16,"w":49.3,"v":43.7},{"s":16,"w":49.54,"v":44},{"s":16,"w":49.78,"v":44.3},{"s":16,"w":50.11,"v":44.7},{"s":16,"w":50.27,"v":45.6},{"s":16,"w":50.52,"v":46.8},{"s":16,"w":50.76,"v":46.4},{"s":16,"w":51.09,"v":46.2},{"s":16,"w":51.33,"v":46.8},{"s":16,"w":51.49,"v":46.2},{"s":16,"w":51.82,"v":45.9},{"s":16,"w":52.22,"v":45.9},{"s":16,"w":52.39,"v":38.4},{"s":16,"w":52.55,"v":32.2},{"s":16,"w":52.66,"v":31},{"s":16,"w":52.79,"v":37.8},{"s":16,"w":53,"v":37.8},
{"s":10,"w":1,"v":43.4},{"s":10,"w":1.45,"v":44.2},{"s":10,"w":1.81,"v":42.2},{"s":10,"w":2.13,"v":40.6},{"s":10,"w":2.42,"v":37},{"s":10,"w":2.61,"v":41.6},{"s":10,"w":2.94,"v":43.4},{"s":10,"w":3.42,"v":43.4},{"s":10,"w":3.9,"v":43.7},{"s":10,"w":4.23,"v":43.4},{"s":10,"w":4.47,"v":41.9},{"s":10,"w":4.58,"v":39.2},{"s":10,"w":4.79,"v":46.2},{"s":10,"w":5.03,"v":49.6},{"s":10,"w":5.35,"v":50.2},{"s":10,"w":5.6,"v":50.6},{"s":10,"w":5.8,"v":49.3},{"s":10,"w":6.05,"v":48.9},{"s":10,"w":6.37,"v":48.9},{"s":10,"w":6.7,"v":49},{"s":10,"w":7.02,"v":50.9},{"s":10,"w":7.27,"v":52},{"s":10,"w":7.59,"v":51.8},{"s":10,"w":7.84,"v":51},{"s":10,"w":8.08,"v":48.7},{"s":10,"w":8.24,"v":46.2},{"s":10,"w":8.41,"v":48.7},{"s":10,"w":8.97,"v":49},{"s":10,"w":9.3,"v":47.5},{"s":10,"w":9.71,"v":46.2},{"s":10,"w":9.95,"v":46.4},{"s":10,"w":10.19,"v":45.3},{"s":10,"w":10.36,"v":45.9},{"s":10,"w":10.6,"v":45.4},{"s":10,"w":10.76,"v":45.9},{"s":10,"w":11.01,"v":43.4},{"s":10,"w":11.13,"v":39.4},{"s":10,"w":11.26,"v":48.7},{"s":10,"w":11.42,"v":49.6},{"s":10,"w":11.91,"v":49.9},{"s":10,"w":12.15,"v":51.2},{"s":10,"w":12.39,"v":49.9},{"s":10,"w":13.04,"v":47.8},{"s":10,"w":13.29,"v":43.4},{"s":10,"w":13.61,"v":42.8},{"s":10,"w":13.86,"v":42.5},{"s":10,"w":14.18,"v":42.8},{"s":10,"w":14.43,"v":44},{"s":10,"w":14.83,"v":45},{"s":10,"w":15.24,"v":45.6},{"s":10,"w":15.56,"v":46.8},{"s":10,"w":15.89,"v":46.5},{"s":10,"w":16.13,"v":46.8},{"s":10,"w":16.29,"v":47.3},{"s":10,"w":16.62,"v":44.7},{"s":10,"w":16.94,"v":44},{"s":10,"w":17.18,"v":40.6},{"s":10,"w":17.35,"v":39.1},{"s":10,"w":17.59,"v":41.2},{"s":10,"w":17.92,"v":43.7},{"s":10,"w":18.24,"v":44.7},{"s":10,"w":18.73,"v":45},{"s":10,"w":19.05,"v":46.5},{"s":10,"w":19.38,"v":46.8},{"s":10,"w":19.79,"v":51.3},{"s":10,"w":19.95,"v":51},{"s":10,"w":20.19,"v":50.2},{"s":10,"w":20.44,"v":50.9},{"s":10,"w":20.68,"v":49.6},{"s":10,"w":20.76,"v":43},{"s":10,"w":21.01,"v":42.8},{"s":10,"w":21.33,"v":41.6},{"s":10,"w":21.57,"v":42.2},{"s":10,"w":21.82,"v":42.8},{"s":10,"w":21.99,"v":45.1},{"s":10,"w":22.31,"v":45.6},{"s":10,"w":22.64,"v":45.3},{"s":10,"w":22.88,"v":44.3},{"s":10,"w":23.2,"v":43.1},{"s":10,"w":23.45,"v":42.8},{"s":10,"w":23.77,"v":43.7},{"s":10,"w":24.1,"v":44.3},{"s":10,"w":24.26,"v":43.7},{"s":10,"w":24.34,"v":40},{"s":10,"w":24.51,"v":42.2},{"s":10,"w":24.75,"v":49.9},{"s":10,"w":25.4,"v":50.2},{"s":10,"w":25.64,"v":49.9},{"s":10,"w":25.81,"v":44.7},{"s":10,"w":26.05,"v":42.2},{"s":10,"w":26.29,"v":43.1},{"s":10,"w":26.54,"v":41.9},{"s":10,"w":26.78,"v":40.3},{"s":10,"w":27.03,"v":41.9},{"s":10,"w":27.26,"v":40.6},{"s":10,"w":27.51,"v":46.5},{"s":10,"w":27.83,"v":45.9},{"s":10,"w":28.08,"v":45.6},{"s":10,"w":28.32,"v":46.2},{"s":10,"w":28.56,"v":43.4},{"s":10,"w":28.81,"v":42.8},{"s":10,"w":29.05,"v":43.1},{"s":10,"w":29.3,"v":40.3},{"s":10,"w":29.46,"v":36.9},{"s":10,"w":29.7,"v":39.7},{"s":10,"w":29.95,"v":40.3},{"s":10,"w":30.27,"v":41.6},{"s":10,"w":30.6,"v":43.4},{"s":10,"w":30.92,"v":41.6},{"s":10,"w":31.25,"v":40.9},{"s":10,"w":31.49,"v":40.9},{"s":10,"w":31.61,"v":0},{"s":10,"w":31.9,"v":0},{"s":10,"w":31.98,"v":40},{"s":10,"w":32.22,"v":42.5},{"s":10,"w":32.72,"v":42.2},{"s":10,"w":33.04,"v":42.5},{"s":10,"w":33.37,"v":42.2},{"s":10,"w":33.61,"v":43.1},{"s":10,"w":33.85,"v":43.1},{"s":10,"w":34.1,"v":39.7},{"s":10,"w":34.34,"v":37.8},{"s":10,"w":34.5,"v":35.3},{"s":10,"w":34.67,"v":37.2},{"s":10,"w":34.83,"v":38.4},{"s":10,"w":35.07,"v":41.6},{"s":10,"w":35.24,"v":45.9},{"s":10,"w":35.56,"v":47.1},{"s":10,"w":35.89,"v":47.5},{"s":10,"w":36.29,"v":47.8},{"s":10,"w":36.62,"v":45.3},{"s":10,"w":36.94,"v":45.6},{"s":10,"w":37.07,"v":47.5},{"s":10,"w":37.19,"v":45.3},{"s":10,"w":37.43,"v":45.3},{"s":10,"w":37.76,"v":45.6},{"s":10,"w":37.92,"v":45.3},{"s":10,"w":38.09,"v":39.4},{"s":10,"w":38.33,"v":38.8},{"s":10,"w":38.57,"v":39.1},{"s":10,"w":38.9,"v":38.8},{"s":10,"w":39.22,"v":39.4},{"s":10,"w":39.39,"v":40.9},{"s":10,"w":39.55,"v":36.9},{"s":10,"w":39.79,"v":44.3},{"s":10,"w":40.04,"v":45.9},{"s":10,"w":40.2,"v":46.2},{"s":10,"w":40.44,"v":44.3},{"s":10,"w":40.69,"v":42.2},{"s":10,"w":40.93,"v":46.8},{"s":10,"w":41.17,"v":46.8},{"s":10,"w":41.42,"v":47.8},{"s":10,"w":41.66,"v":50.2},{"s":10,"w":41.91,"v":46.8},{"s":10,"w":42.15,"v":47.1},{"s":10,"w":42.48,"v":48.4},{"s":10,"w":42.72,"v":45.9},{"s":10,"w":42.96,"v":45.6},{"s":10,"w":43.21,"v":45},{"s":10,"w":43.3,"v":41.6},{"s":10,"w":43.53,"v":37.8},{"s":10,"w":43.85,"v":38.1},{"s":10,"w":44.1,"v":37.8},{"s":10,"w":44.34,"v":37.2},{"s":10,"w":44.5,"v":32.2},{"s":10,"w":44.66,"v":36.6},{"s":10,"w":44.83,"v":40.6},{"s":10,"w":45.07,"v":40.9},{"s":10,"w":45.32,"v":41.6},{"s":10,"w":45.56,"v":41.2},{"s":10,"w":45.72,"v":44.3},{"s":10,"w":46.05,"v":44},{"s":10,"w":46.37,"v":44},{"s":10,"w":46.62,"v":43.7},{"s":10,"w":46.78,"v":35},{"s":10,"w":47.02,"v":34.1},{"s":10,"w":47.35,"v":32.5},{"s":10,"w":47.67,"v":32.9},{"s":10,"w":47.84,"v":34.1},{"s":10,"w":48.16,"v":34.1},{"s":10,"w":48.41,"v":33.8},{"s":10,"w":48.57,"v":41.6},{"s":10,"w":48.73,"v":44},{"s":10,"w":48.97,"v":44.3},{"s":10,"w":49.22,"v":44.7},{"s":10,"w":49.46,"v":44},{"s":10,"w":49.7,"v":48.4},{"s":10,"w":50.03,"v":48.7},{"s":10,"w":50.27,"v":48.9},{"s":10,"w":50.52,"v":47.8},{"s":10,"w":50.76,"v":45},{"s":10,"w":50.92,"v":39.7},{"s":10,"w":51.17,"v":39.4},{"s":10,"w":51.41,"v":43.4},{"s":10,"w":51.74,"v":43.4},{"s":10,"w":52.22,"v":43.4},{"s":10,"w":52.39,"v":36.6},{"s":10,"w":52.55,"v":32.2},{"s":10,"w":52.66,"v":30.4},{"s":10,"w":52.79,"v":37.8},{"s":10,"w":53,"v":37.8},
{"s":12,"w":1,"v":44},{"s":12,"w":1.16,"v":44.7},{"s":12,"w":1.45,"v":45.8},{"s":12,"w":1.73,"v":44.3},{"s":12,"w":2.05,"v":42.5},{"s":12,"w":2.29,"v":41.7},{"s":12,"w":2.45,"v":38.5},{"s":12,"w":2.61,"v":42.2},{"s":12,"w":2.85,"v":43.4},{"s":12,"w":3.1,"v":42.3},{"s":12,"w":3.26,"v":43.7},{"s":12,"w":3.5,"v":44.2},{"s":12,"w":3.66,"v":43.3},{"s":12,"w":3.82,"v":44},{"s":12,"w":4.06,"v":45},{"s":12,"w":4.23,"v":43.1},{"s":12,"w":4.47,"v":42.3},{"s":12,"w":4.55,"v":39.4},{"s":12,"w":4.71,"v":45.9},{"s":12,"w":5,"v":47.8},{"s":12,"w":5.35,"v":48.7},{"s":12,"w":5.6,"v":49.3},{"s":12,"w":5.8,"v":48.1},{"s":12,"w":6.05,"v":49},{"s":12,"w":6.29,"v":47.8},{"s":12,"w":6.7,"v":46.8},{"s":12,"w":7.02,"v":48.4},{"s":12,"w":7.27,"v":50.1},{"s":12,"w":7.59,"v":50.2},{"s":12,"w":7.92,"v":49},{"s":12,"w":8.16,"v":46.8},{"s":12,"w":8.24,"v":44},{"s":12,"w":8.41,"v":48.2},{"s":12,"w":9.06,"v":48.2},{"s":12,"w":9.38,"v":44.7},{"s":12,"w":9.71,"v":43.7},{"s":12,"w":9.95,"v":44.3},{"s":12,"w":10.19,"v":42.8},{"s":12,"w":10.44,"v":41.2},{"s":12,"w":10.68,"v":42.3},{"s":12,"w":10.93,"v":40.7},{"s":12,"w":11.13,"v":39.4},{"s":12,"w":11.26,"v":46.8},{"s":12,"w":11.42,"v":48.7},{"s":12,"w":11.66,"v":49.3},{"s":12,"w":11.91,"v":49.6},{"s":12,"w":12.15,"v":50.9},{"s":12,"w":12.31,"v":49.6},{"s":12,"w":12.56,"v":49},{"s":12,"w":12.8,"v":47.9},{"s":12,"w":12.96,"v":48.5},{"s":12,"w":13.13,"v":45.9},{"s":12,"w":13.37,"v":43.7},{"s":12,"w":13.61,"v":43.4},{"s":12,"w":13.86,"v":41.6},{"s":12,"w":14.1,"v":40.9},{"s":12,"w":14.26,"v":40.9},{"s":12,"w":14.43,"v":43.4},{"s":12,"w":14.75,"v":45},{"s":12,"w":15,"v":45.3},{"s":12,"w":15.32,"v":45.6},{"s":12,"w":15.56,"v":47.1},{"s":12,"w":15.81,"v":46.5},{"s":12,"w":16.05,"v":48.1},{"s":12,"w":16.21,"v":48.2},{"s":12,"w":16.38,"v":46.8},{"s":12,"w":16.62,"v":45.6},{"s":12,"w":16.94,"v":45.3},{"s":12,"w":17.1,"v":41.6},{"s":12,"w":17.27,"v":39.1},{"s":12,"w":17.51,"v":41.2},{"s":12,"w":17.75,"v":43.7},{"s":12,"w":18.08,"v":44},{"s":12,"w":18.24,"v":45.9},{"s":12,"w":18.73,"v":45.9},{"s":12,"w":18.89,"v":46.5},{"s":12,"w":19.14,"v":45.9},{"s":12,"w":19.46,"v":46.2},{"s":12,"w":19.7,"v":47.5},{"s":12,"w":19.87,"v":48.2},{"s":12,"w":20.03,"v":46.5},{"s":12,"w":20.27,"v":46.8},{"s":12,"w":20.52,"v":47.6},{"s":12,"w":20.76,"v":43},{"s":12,"w":21.01,"v":42.8},{"s":12,"w":21.25,"v":42.2},{"s":12,"w":21.49,"v":42.2},{"s":12,"w":21.66,"v":43.2},{"s":12,"w":21.9,"v":44.8},{"s":12,"w":22.15,"v":45.3},{"s":12,"w":22.39,"v":45.3},{"s":12,"w":22.64,"v":44.7},{"s":12,"w":22.88,"v":43.4},{"s":12,"w":23.12,"v":42.5},{"s":12,"w":23.37,"v":42.2},{"s":12,"w":23.61,"v":43.1},{"s":12,"w":23.94,"v":44},{"s":12,"w":24.1,"v":44.7},{"s":12,"w":24.26,"v":45.9},{"s":12,"w":24.34,"v":44.3},{"s":12,"w":24.51,"v":45.6},{"s":12,"w":24.75,"v":48.9},{"s":12,"w":25.07,"v":49},{"s":12,"w":25.24,"v":48.5},{"s":12,"w":25.48,"v":48.7},{"s":12,"w":25.64,"v":48.2},{"s":12,"w":25.81,"v":44.3},{"s":12,"w":25.97,"v":42.5},{"s":12,"w":26.21,"v":45.1},{"s":12,"w":26.46,"v":44},{"s":12,"w":26.7,"v":43.1},{"s":12,"w":26.94,"v":44.3},{"s":12,"w":27.1,"v":43.5},{"s":12,"w":27.26,"v":41.2},{"s":12,"w":27.43,"v":40.9},{"s":12,"w":27.59,"v":47.5},{"s":12,"w":27.83,"v":47.1},{"s":12,"w":28.08,"v":46.5},{"s":12,"w":28.24,"v":47.5},{"s":12,"w":28.48,"v":45.3},{"s":12,"w":28.65,"v":43.4},{"s":12,"w":28.89,"v":42.8},{"s":12,"w":29.13,"v":43.1},{"s":12,"w":29.3,"v":40.9},{"s":12,"w":29.46,"v":37.5},{"s":12,"w":29.7,"v":40.6},{"s":12,"w":29.87,"v":40.3},{"s":12,"w":30.11,"v":41.9},{"s":12,"w":30.35,"v":42.2},{"s":12,"w":30.6,"v":44},{"s":12,"w":30.92,"v":42.5},{"s":12,"w":31.17,"v":41.6},{"s":12,"w":31.49,"v":41.6},{"s":12,"w":31.57,"v":0},{"s":12,"w":31.74,"v":0},{"s":12,"w":31.82,"v":35.3},{"s":12,"w":32.06,"v":41.6},{"s":12,"w":32.39,"v":42.8},{"s":12,"w":32.72,"v":42.8},{"s":12,"w":32.96,"v":42.2},{"s":12,"w":33.12,"v":40.9},{"s":12,"w":33.28,"v":39.7},{"s":12,"w":33.53,"v":41.2},{"s":12,"w":33.85,"v":43.1},{"s":12,"w":34.02,"v":40.9},{"s":12,"w":34.18,"v":38.4},{"s":12,"w":34.34,"v":37.8},{"s":12,"w":34.47,"v":34.4},{"s":12,"w":34.67,"v":38.1},{"s":12,"w":34.83,"v":36.6},{"s":12,"w":34.99,"v":38.8},{"s":12,"w":35.24,"v":45.9},{"s":12,"w":35.48,"v":46.8},{"s":12,"w":35.64,"v":48.4},{"s":12,"w":35.97,"v":48.1},{"s":12,"w":36.37,"v":47.8},{"s":12,"w":36.62,"v":45.3},{"s":12,"w":36.86,"v":44.3},{"s":12,"w":37.11,"v":44.7},{"s":12,"w":37.35,"v":43.1},{"s":12,"w":37.51,"v":41.9},{"s":12,"w":37.76,"v":42.3},{"s":12,"w":38,"v":41.6},{"s":12,"w":38.17,"v":38.1},{"s":12,"w":38.41,"v":39.7},{"s":12,"w":38.65,"v":38.1},{"s":12,"w":38.9,"v":38.1},{"s":12,"w":39.14,"v":38.4},{"s":12,"w":39.39,"v":38.8},{"s":12,"w":39.52,"v":36},{"s":12,"w":39.71,"v":42.5},{"s":12,"w":39.96,"v":43.4},{"s":12,"w":40.2,"v":43.7},{"s":12,"w":40.44,"v":42.2},{"s":12,"w":40.69,"v":41.6},{"s":12,"w":40.77,"v":40.6},{"s":12,"w":40.93,"v":47.8},{"s":12,"w":41.17,"v":48.1},{"s":12,"w":41.42,"v":48.1},{"s":12,"w":41.66,"v":49.9},{"s":12,"w":41.91,"v":47.5},{"s":12,"w":42.15,"v":47.5},{"s":12,"w":42.48,"v":48.7},{"s":12,"w":42.72,"v":46.5},{"s":12,"w":42.96,"v":45.9},{"s":12,"w":43.12,"v":45.3},{"s":12,"w":43.28,"v":43.1},{"s":12,"w":43.53,"v":38.6},{"s":12,"w":43.85,"v":38.4},{"s":12,"w":44.1,"v":38.1},{"s":12,"w":44.34,"v":36.6},{"s":12,"w":44.5,"v":34.1},{"s":12,"w":44.66,"v":37.8},{"s":12,"w":44.83,"v":40.3},{"s":12,"w":45.07,"v":41.2},{"s":12,"w":45.32,"v":41.2},{"s":12,"w":45.56,"v":40.3},{"s":12,"w":45.72,"v":42.2},{"s":12,"w":46.05,"v":42},{"s":12,"w":46.37,"v":41.9},{"s":12,"w":46.62,"v":41.9},{"s":12,"w":46.78,"v":35.7},{"s":12,"w":47.1,"v":34.5},{"s":12,"w":47.43,"v":33.9},{"s":12,"w":47.59,"v":34.7},{"s":12,"w":47.84,"v":35.7},{"s":12,"w":48.08,"v":36},{"s":12,"w":48.24,"v":36.3},{"s":12,"w":48.4,"v":33.5},{"s":12,"w":48.57,"v":40},{"s":12,"w":48.73,"v":43.7},{"s":12,"w":49.05,"v":44.3},{"s":12,"w":49.38,"v":44.7},{"s":12,"w":49.62,"v":45.3},{"s":12,"w":49.78,"v":48.1},{"s":12,"w":50.03,"v":48.7},{"s":12,"w":50.27,"v":48.7},{"s":12,"w":50.52,"v":48.1},{"s":12,"w":50.68,"v":45.3},{"s":12,"w":50.84,"v":40},{"s":12,"w":51.08,"v":39.4},{"s":12,"w":51.25,"v":37.5},{"s":12,"w":51.41,"v":40},{"s":12,"w":51.82,"v":40},{"s":12,"w":52.14,"v":39.7},{"s":12,"w":52.31,"v":36.6},{"s":12,"w":52.47,"v":32.9},{"s":12,"w":52.6,"v":30.1},{"s":12,"w":52.71,"v":39.4},{"s":12,"w":53,"v":39.4}
]},
"mark": {"type": "line", "strokeWidth": 2, "strokeJoin": "round"},
"encoding": {
"x": {"field": "w", "type": "quantitative", "scale": {"domain": [1, 53], "nice": false, "zero": false},
 "axis": {"values": [1,2,3,4,5,6,7,8,9,10,11,12,13,14,15,16,17,18,19,20,21,22,23,24,25,26,27,28,29,30,31,32,33,34,35,36,37,38,39,40,41,42,43,44,45,46,47,48,49,50,51,52,53],
  "format": "d", "labelAngle": -45, "labelOverlap": false, "labelFont": "Lato", "labelFontSize": 12, "labelColor": "#d9d9d9", "labelPadding": 4,
  "grid": true, "gridColor": "#ffffff", "gridOpacity": 0.12, "domain": false, "ticks": false,
  "title": "WEEK NUMBER", "titleFont": "Lato", "titleFontSize": 12, "titleFontWeight": "bold", "titleColor": "#d9d9d9", "titlePadding": 19}},
"y": {"field": "v", "type": "quantitative", "scale": {"domain": [0, 55], "nice": false},
 "axis": {"values": [0,5,10,15,20,25,30,35,40,45,50,55], "labelFont": "Lato", "labelFontSize": 12, "labelColor": "#d9d9d9", "labelPadding": 12,
  "grid": true, "gridColor": "#ffffff", "gridOpacity": 0.14, "domain": false, "ticks": false,
  "title": "ROLLING 7 DAY LDN", "titleFont": "Lato", "titleFontSize": 11, "titleFontWeight": "bold", "titleColor": "#d9d9d9", "titlePadding": 8}},
"color": {"field": "s", "type": "nominal",
 "scale": {"domain": [9,10,11,12,13,14,15,16], "range": ["#4472c4","#ed7d31","#a5a5a5","#ffc000","#5b9bd5","#70ad47","#2a4a80","#a9501a"]},
 "legend": {"orient": "none", "legendX": 33, "legendY": 656, "direction": "horizontal", "columns": 8, "gridAlign": "all", "columnPadding": 14, "title": null,
  "symbolType": "stroke", "symbolSize": 1600, "symbolStrokeWidth": 2, "labelExpr": "'ETCMP' + datum.label", "labelFont": "Lato", "labelFontSize": 13, "labelColor": "#d9d9d9", "labelOffset": 6}},
"strokeDash": {"field": "s", "type": "nominal",
 "scale": {"domain": [9,10,11,12,13,14,15,16], "range": [[5,4],[1,0],[5,4],[1,0],[5,4],[1,0],[5,4],[1,0]]},
 "legend": {"orient": "none", "legendX": 33, "legendY": 656, "direction": "horizontal", "columns": 8, "gridAlign": "all", "columnPadding": 14, "title": null,
  "symbolType": "stroke", "symbolSize": 1600, "symbolStrokeWidth": 2, "labelExpr": "'ETCMP' + datum.label", "labelFont": "Lato", "labelFontSize": 13, "labelColor": "#d9d9d9", "labelOffset": 6}}
}
}
